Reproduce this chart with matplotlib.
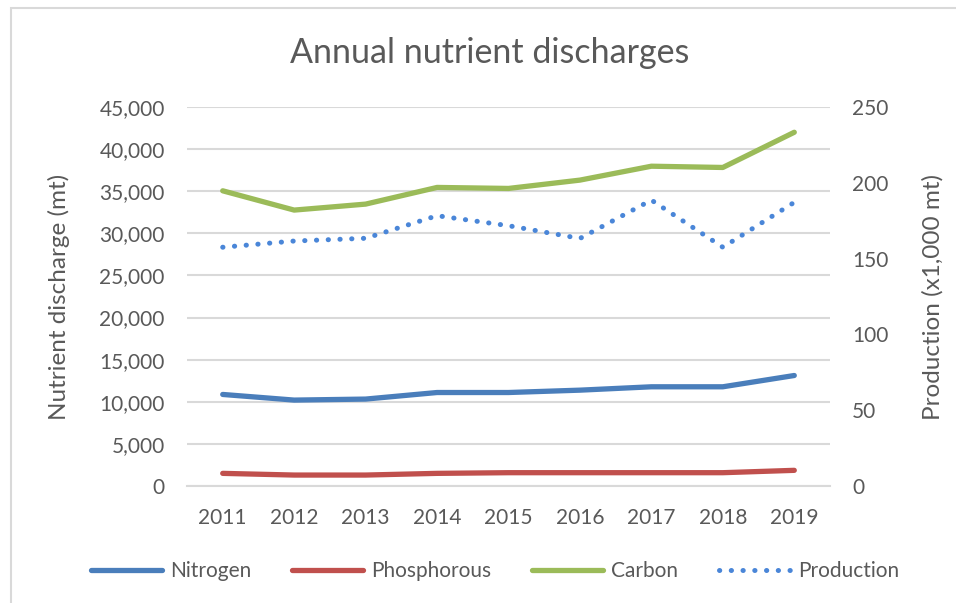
import matplotlib.pyplot as plt
from matplotlib.ticker import FuncFormatter
from matplotlib.patches import Rectangle

years = [2011, 2012, 2013, 2014, 2015, 2016, 2017, 2018, 2019]
nitrogen = [10870, 10200, 10320, 11100, 11100, 11380, 11780, 11780, 13120]
phosphorous = [1500, 1300, 1300, 1500, 1580, 1580, 1580, 1580, 1860]
carbon = [35050, 32760, 33470, 35450, 35330, 36320, 37970, 37820, 42000]
production = [157.5, 161.6, 163.4, 178.3, 171.7, 163.3, 188.6, 157.5, 187.1]

txt = "#595959"
grid = "#d9d9d9"
plt.rcParams['font.family'] = ['Lato', 'DejaVu Sans']

fig = plt.figure(figsize=(9.56, 6.03), dpi=100)
# left/top of the chart frame
fig.patches.append(Rectangle((11 / 956, -0.1), 1.2, (603 - 8) / 603 + 0.1,
                             transform=fig.transFigure, fill=False,
                             edgecolor=grid, linewidth=1.5))

ax = fig.add_axes([187 / 956, 1 - 486 / 603, (830 - 187) / 956, (486 - 107) / 603])
ax2 = ax.twinx()

lw = 3.8
l1, = ax.plot(years, nitrogen, color="#4a7ebb", lw=lw, solid_capstyle="round", label="Nitrogen")
l2, = ax.plot(years, phosphorous, color="#c0504d", lw=lw, solid_capstyle="round", label="Phosphorous")
l3, = ax.plot(years, carbon, color="#9bbb59", lw=lw, solid_capstyle="round", label="Carbon")
l4, = ax2.plot(years, production, color="#4a86d8", lw=3.6, linestyle=(0, (0.05, 2.3)),
               dash_capstyle="round", label="Production")

ax.set_xlim(2010.5, 2019.5)
ax.set_ylim(0, 45000)
ax2.set_ylim(0, 250)
ax.set_yticks(range(0, 45001, 5000))
ax2.set_yticks(range(0, 251, 50))
ax.set_xticks(years)
ax.yaxis.set_major_formatter(FuncFormatter(lambda v, p: f"{int(v):,}"))

ax.grid(axis="y", color=grid, linewidth=1.5)
ax.set_axisbelow(True)
for a in (ax, ax2):
    for s in a.spines.values():
        s.set_visible(False)
    a.tick_params(length=0, labelsize=15, colors=txt)
ax.spines["bottom"].set_visible(True)
ax.spines["bottom"].set_color(grid)
ax.spines["bottom"].set_linewidth(1.5)
ax.tick_params(axis="y", pad=16)
ax2.tick_params(axis="y", pad=16)
ax.tick_params(axis="x", pad=16)

ax.set_ylabel("Nutrient discharge (mt)", fontsize=17.5, color=txt, labelpad=21)
ax2.set_ylabel("Production (x1,000 mt)", fontsize=17.5, color=txt, labelpad=24)
fig.text(490 / 956, 1 - 53 / 603, "Annual nutrient discharges", fontsize=24.5,
         color=txt, ha="center", va="center")

fig.legend(handles=[l1, l2, l3, l4], loc="center", bbox_to_anchor=(495 / 956, 1 - 571 / 603),
           ncol=4, frameon=False, fontsize=15, labelcolor=txt, handlelength=3.4,
           columnspacing=1.95, handletextpad=0.4)

fig.savefig("out.png", dpi=100, facecolor="white")
